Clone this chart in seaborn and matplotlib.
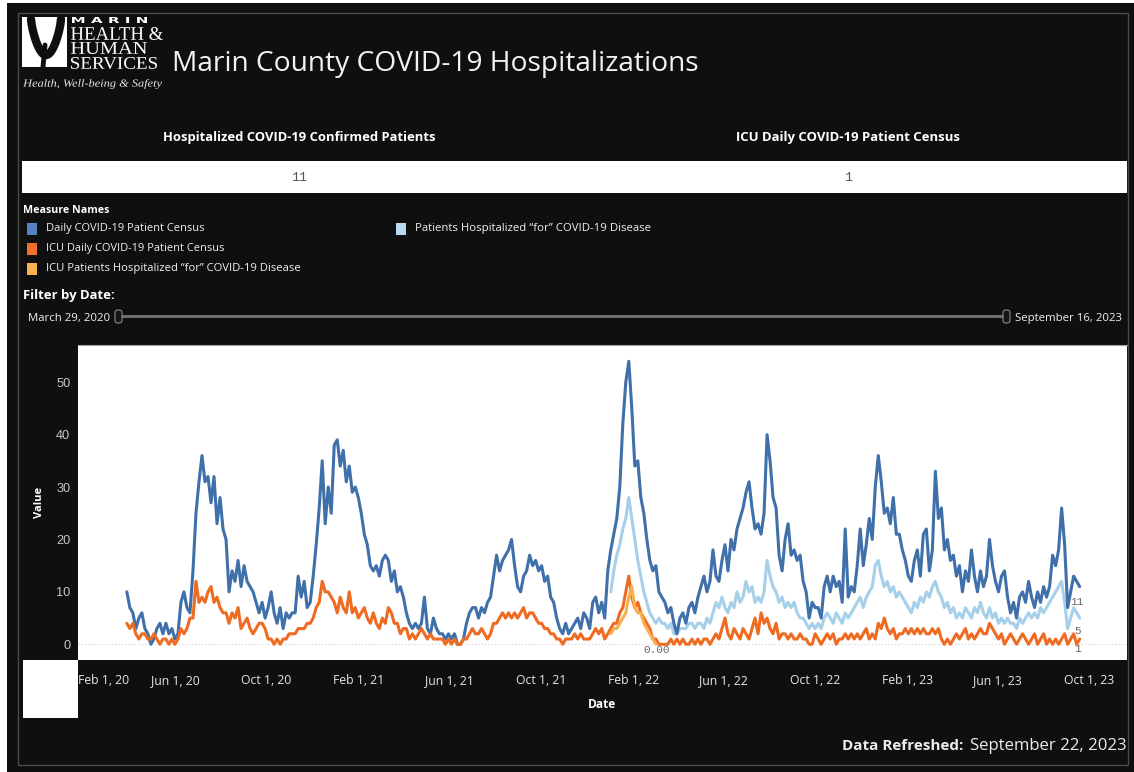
import numpy as np
import pandas as pd
import matplotlib
matplotlib.use("Agg")
import matplotlib.pyplot as plt
import matplotlib.dates as mdates
from matplotlib.patches import Rectangle, FancyBboxPatch, PathPatch
from matplotlib.ticker import FuncFormatter
from matplotlib.textpath import TextPath
from matplotlib.font_manager import FontProperties
from matplotlib.transforms import Affine2D, ScaledTranslation
import seaborn as sns

# ---------------- data (one value every 4 days) ----------------
SERIES_START = "2020-03-29"
FOR_START = "2022-01-02"
STEP = "4D"

daily_census = [
    10, 7, 6, 3, 5, 6, 3, 2, 0, 1,
    3, 4, 2, 4, 2, 3, 1, 2, 8, 10,
    7, 6, 14, 25, 31, 36, 31, 32, 27, 32,
    23, 28, 22, 20, 10, 14, 12, 16, 11, 15,
    12, 11, 10, 8, 6, 8, 5, 7, 10, 6,
    4, 7, 3, 6, 5, 6, 6, 13, 9, 12,
    7, 8, 13, 19, 26, 35, 23, 30, 25, 38,
    39, 34, 37, 31, 34, 29, 30, 28, 25, 21,
    19, 15, 14, 15, 13, 16, 17, 16, 12, 14,
    10, 11, 9, 6, 4, 3, 4, 3,
    4, 9, 3, 2, 5, 3, 2, 2, 1, 2,
    1, 2, 0, 0, 1, 4, 6, 7, 7, 5,
    7, 6, 8, 9, 13, 17, 14, 16, 17, 18,
    20, 15, 11, 10, 13, 14, 17, 15, 16, 14,
    15, 12, 13, 9, 8, 5, 3, 2, 4, 2,
    3, 4, 5, 3, 6, 5, 3, 8, 9, 6,
    8, 5, 14, 18, 21, 24, 30, 42, 50, 54,
    45, 34, 35, 28, 25, 20, 16, 14, 15, 10,
    9, 8, 6, 7, 4, 2, 5, 6, 4, 7,
    8, 6, 9, 11, 13, 10, 12, 18, 13, 12,
    16, 19, 14, 20, 18, 22, 24, 26, 29, 31,
    26, 22, 23,
    21, 25, 40, 35, 28, 26, 17, 14, 20, 23,
    17, 18, 16, 17, 12, 10, 5, 8, 7, 7,
    5, 11, 13, 10, 13, 11, 12, 8, 22, 9,
    11, 10, 15, 22, 15, 19, 24, 20, 30, 36,
    31, 25, 26, 23, 28, 21, 21, 18, 16, 13,
    12, 16, 18, 13, 21, 22, 14, 18, 33, 24,
    26, 18, 20, 16, 17, 13, 15, 10, 14, 12,
    18, 13, 10, 14, 11, 13, 20, 15, 12, 10,
    13, 14, 9, 6, 8, 5, 9, 10, 8, 12,
    9, 7, 10, 8, 11, 9, 11, 17, 15, 18,
    26, 19, 7, 10, 13, 12, 11,
]

icu_census = [
    4, 3, 4, 2, 1, 2, 2, 1, 1, 2,
    1, 0, 1, 1, 0, 1, 0, 1, 3, 2,
    3, 5, 5, 12, 8, 9, 8, 10, 11, 8,
    9, 7, 6, 6, 4, 6, 5, 7, 3, 4,
    5, 3, 2, 3, 4, 4, 3, 1, 1, 0,
    1, 0, 1, 1, 2, 2, 2, 3, 3, 3,
    4, 4, 5, 7, 8, 12, 10, 10, 9, 8,
    6, 9, 7, 6, 10, 6, 7, 5, 6, 7,
    5, 4, 6, 4, 3, 5, 4, 7, 6, 4,
    4, 2, 3, 3, 1, 2, 1, 2,
    3, 2, 1, 2, 1, 1, 1, 1, 0, 1,
    0, 1, 0, 0, 1, 1, 2, 3, 2, 2,
    3, 2, 1, 2, 4, 4, 5, 6, 5, 6,
    5, 6, 5, 6, 7, 5, 6, 6, 5, 4,
    4, 3, 3, 2, 2, 1, 1, 0, 1, 1,
    1, 2, 1, 2, 1, 1, 1, 2, 3, 2,
    3, 1, 2, 3, 4, 4, 6, 7, 10, 13,
    9, 7, 8, 6, 5, 4, 3, 1, 1, 0,
    0, 0, 0, 1, 0, 1, 0, 1, 0, 0,
    1, 0, 1, 0, 1, 1, 0, 1, 2, 1,
    3, 5, 2, 1, 3, 2, 1, 3, 2, 1,
    3, 5, 2,
    6, 4, 5, 3, 2, 4, 1, 2, 2, 1,
    2, 1, 1, 2, 1, 1, 0, 0, 2, 1,
    0, 1, 2, 1, 2, 0, 1, 1, 2, 1,
    2, 1, 2, 1, 2, 3, 1, 2, 1, 4,
    3, 5, 3, 2, 3, 1, 2, 2, 3, 2,
    3, 2, 3, 2, 3, 2, 2, 3, 2, 3,
    1, 0, 1, 0, 1, 2, 1, 2, 3, 1,
    2, 1, 2, 3, 2, 2, 4, 3, 2, 1,
    2, 0, 1, 2, 1, 0, 1, 2, 1, 0,
    1, 2, 0, 1, 2, 0, 1, 0, 1, 0,
    1, 2, 0, 1, 2, 0, 1,
]

for_covid = [
    10, 14, 17, 19, 22, 24, 28, 24, 20, 16,
    13, 10, 8, 6, 5, 4, 5, 4, 4, 3,
    4, 2, 2, 3, 3, 3, 4, 4, 3, 4,
    4, 3, 5, 4, 6, 8, 7, 9, 7, 6,
    8, 7, 10, 8, 9, 12, 10, 11, 8, 9,
    8, 10, 16, 13, 11, 10, 8, 9, 7, 8,
    7, 8, 6, 5, 5, 4, 3, 4, 3, 4,
    3, 5, 6, 5, 4, 6, 5, 4, 6, 5,
    6, 7, 8, 9, 7, 9, 10, 11, 15, 16,
    13, 11, 12, 10, 11, 9, 10, 9, 8, 7,
    6, 8, 7, 9, 8, 10, 9, 11, 12, 10,
    9, 7, 8, 6, 7, 5, 6, 5, 7, 6,
    5, 7, 6, 8, 6, 5, 7, 5, 6, 4,
    5, 4, 5, 4, 4, 3, 5, 4, 5, 6,
    5, 6, 5, 7, 6, 7, 8, 9, 10, 11,
    12, 8, 3, 5, 7, 6, 5,
]

icu_for_covid = [2, 3, 3, 4, 5, 6, 9, 11, 7, 6, 6, 4, 3, 2, 1, 0]

measure_names = [
    "Daily COVID-19 Patient Census",
    "ICU Daily COVID-19 Patient Census",
    "ICU Patients Hospitalized \u201cfor\u201d COVID-19 Disease",
    "Patients Hospitalized \u201cfor\u201d COVID-19 Disease",
]
measure_colors = ["#3f70aa", "#f06b22", "#f8b04e", "#a6cfea"]
legend_colors = ["#5582c0", "#f26f2a", "#f8b250", "#b7dcf0"]

end_labels = ["11", "1", "0.00", "5"]

# ---------------- build long table ----------------
def frame(values, start, name):
    d = pd.date_range(start, periods=len(values), freq=STEP)
    return pd.DataFrame({"Date": d, "Value": values, "Measure": name})

df = pd.concat([
    frame(daily_census, SERIES_START, measure_names[0]),
    frame(icu_census, SERIES_START, measure_names[1]),
    frame(icu_for_covid, FOR_START, measure_names[2]),
    frame(for_covid, FOR_START, measure_names[3]),
], ignore_index=True)

palette = dict(zip(measure_names, measure_colors))

# ---------------- figure ----------------
W, H = 1134, 772
sns.set_style("white")
plt.rcParams["font.family"] = ["Open Sans", "DejaVu Sans"]
fig = plt.figure(figsize=(W / 100, H / 100), dpi=100)
fig.patch.set_facecolor("white")
PXT = Affine2D().scale(1 / W, 1 / H) + fig.transFigure   # pixel (origin bottom-left) -> figure

def px(x, y):
    return x / W, 1 - y / H

# dark dashboard background + inner frame
fig.patches.append(Rectangle(px(7, 772), (W - 7) / W, (772 - 3) / H,
                             transform=fig.transFigure, facecolor="#0f0f0f",
                             edgecolor="none", zorder=-10))
fig.patches.append(Rectangle(px(18, 765), (1128 - 18) / W, (765 - 13) / H,
                             transform=fig.transFigure, facecolor="none",
                             edgecolor="#4a4a4a", lw=1.0, zorder=-9))

renderer = fig.canvas.get_renderer()

def ftext(x, y, s, width=None, size=10, ha="left", va="center", **kw):
    t = fig.text(*px(x, y), s, fontsize=size, ha=ha, va=va, **kw)
    if width:
        bb = t.get_window_extent(renderer)
        t.set_fontsize(size * width / bb.width)
    return t

def path_text(s, x0, x1, ytop, ybot, family, weight="normal", style="normal", color="white"):
    tp = TextPath((0, 0), s, size=100,
                  prop=FontProperties(family=family, weight=weight, style=style))
    bb = tp.get_extents()
    tr = (Affine2D().translate(-bb.x0, -bb.y0)
          .scale((x1 - x0) / bb.width, (ybot - ytop) / bb.height)
          .translate(x0, H - ybot))
    fig.patches.append(PathPatch(tr.transform_path(tp), transform=PXT,
                                 facecolor=color, edgecolor="none", zorder=3))

# logo
fig.patches.append(Rectangle(px(22, 67), 45 / W, 50 / H, transform=fig.transFigure,
                             facecolor="white", edgecolor="none", zorder=2))
lx = np.linspace(31, 61, 50)
ly = 19 + 36 * np.sin(np.linspace(0, np.pi, 50)) ** 0.7
fig.lines.append(plt.Line2D(lx / W, 1 - ly / H, transform=fig.transFigure,
                            color="#0f0f0f", lw=6, solid_capstyle="round", zorder=3))
fig.lines.append(plt.Line2D([45 / W, 43 / W], [1 - 45 / H, 1 - 67 / H], transform=fig.transFigure,
                            color="#0f0f0f", lw=3.5, zorder=3))
path_text("M A R I N", 72, 147, 17, 23, ["DejaVu Sans"], weight="bold")
path_text("HEALTH &", 71, 163, 27, 40, ["Liberation Serif"])
path_text("HUMAN", 71, 147, 42, 54, ["Liberation Serif"])
path_text("SERVICES", 71, 157, 57, 69, ["Liberation Serif"])
path_text("Health, Well-being & Safety", 23, 162, 79, 89, ["Liberation Serif"],
          style="italic", color="#e6e6e6")

# title
ftext(172, 64, "Marin County COVID-19 Hospitalizations", width=526, size=20, color="#f2f2f2")

# KPI headers & band
ftext(299, 137, "Hospitalized COVID-19 Confirmed Patients", width=274, size=10,
      ha="center", weight="bold", color="white")
ftext(848, 137, "ICU Daily COVID-19 Patient Census", width=224, size=10,
      ha="center", weight="bold", color="white")
fig.patches.append(Rectangle(px(22, 193), (1127 - 22) / W, 32 / H, transform=fig.transFigure,
                             facecolor="white", edgecolor="none", zorder=2))
ftext(299, 178, "11", size=9.5, ha="center", color="#555555", family=["Liberation Mono"])
ftext(848, 178, "1", size=9.5, ha="center", color="#555555", family=["Liberation Mono"])

# legend
ftext(23, 210, "Measure Names", width=86, size=8, weight="bold", color="white")
leg_pos = [(27, 229), (27, 249), (27, 269), (396, 229)]
leg_widths = [158, 177, 255, 237]
for (lx0, ly0), name, col, wd in zip(leg_pos, measure_names, legend_colors, leg_widths):
    fig.patches.append(Rectangle(px(lx0, ly0 + 6), 10 / W, 12 / H, transform=fig.transFigure,
                                 facecolor=col, edgecolor="none", zorder=2))
    ftext(lx0 + 19, ly0, name, width=wd, size=8, color="#f0f0f0")

# date filter
ftext(23, 296, "Filter by Date:", width=92, size=8, weight="bold", color="white")
ftext(28, 318, "March 29, 2020", width=82, size=8, color="#f0f0f0")
ftext(1015, 318, "September 16, 2023", width=107, size=8, color="#f0f0f0")
fig.patches.append(Rectangle(px(118, 318), (1006 - 118) / W, 3 / H, transform=fig.transFigure,
                             facecolor="#6e6e6e", edgecolor="none", zorder=2))
for hx in (115, 1003):
    fig.patches.append(FancyBboxPatch(px(hx, 323), 7 / W, 13 / H, transform=fig.transFigure,
                                      boxstyle="round,pad=0,rounding_size=0.003",
                                      facecolor="#151515", edgecolor="#8a8a8a", lw=0.8, zorder=3))

# ---------------- chart ----------------
ax = fig.add_axes([78 / W, (H - 660) / H, (1127 - 78) / W, (660 - 345) / H])
ax.set_facecolor("white")
ax.axhline(0, color="#cfcfcf", lw=0.8, ls=(0, (1, 2)), zorder=0.5)

draw_order = [measure_names[3], measure_names[0], measure_names[1], measure_names[2]]
sns.lineplot(data=df, x="Date", y="Value", hue="Measure", hue_order=draw_order,
             palette=palette, legend=False, lw=2.2, ax=ax, estimator=None, sort=True)

ax.set_xlim(pd.Timestamp("2020-01-24"), pd.Timestamp("2023-11-20"))
ax.set_ylim(-3, 57.1)
ax.set_yticks([0, 10, 20, 30, 40, 50])

ax.xaxis.set_major_locator(mdates.MonthLocator(bymonth=[2, 6, 10], bymonthday=1))
ax.xaxis.set_minor_locator(mdates.MonthLocator(bymonthday=1))
ax.xaxis.set_major_formatter(FuncFormatter(
    lambda v, p: "{:%b} {}, {:%y}".format(mdates.num2date(v), mdates.num2date(v).day, mdates.num2date(v))))

ax.tick_params(axis="x", which="major", colors="#cfcfcf", length=5, width=0.8, pad=5,
               labelsize=8.8, labelcolor="#e6e6e6")
ax.tick_params(axis="x", which="minor", colors="#8a8a8a", length=3, width=0.6)
ax.tick_params(axis="y", colors="#9a9a9a", length=4, width=0.8, pad=1.5,
               labelsize=9.2, labelcolor="#c8c8c8")
for lab in ax.get_yticklabels():
    lab.set_family(["Liberation Sans"])

for s in ("left", "right", "bottom"):
    ax.spines[s].set_visible(False)
ax.spines["top"].set_color("#a0a0a0")
ax.spines["top"].set_linewidth(0.8)

ax.set_xlabel("")
ax.set_ylabel("")
ftext(40, 502, "Value", size=8, weight="bold", color="white", rotation=90, ha="center")
ftext(602, 705, "Date", width=28, size=8.5, weight="bold", color="white", ha="center")

# end-of-line labels (placed just below each line's last point)
series_values = [daily_census, icu_census, icu_for_covid, for_covid]
series_starts = [SERIES_START, SERIES_START, FOR_START, FOR_START]
label_offsets_px = [(-3, -15), (-2, -10), (1, -6), (-2, -13)]
for vals, st, lab, off in zip(series_values, series_starts, end_labels, label_offsets_px):
    last = pd.date_range(st, periods=len(vals), freq=STEP)[-1]
    ax.annotate(lab, (last, vals[-1]), xytext=(off[0] * 0.72, off[1] * 0.72),
                textcoords="offset points", fontsize=8, color="#666666",
                ha="center", va="center", family=["Liberation Mono"])

# white box bottom-left
fig.patches.append(Rectangle(px(23, 718), (78 - 23) / W, (718 - 660) / H, transform=fig.transFigure,
                             facecolor="white", edgecolor="none", zorder=2))

# data refreshed
ftext(842, 746, "Data Refreshed:", width=122, size=12, weight="bold", color="#ececec")
ftext(970, 746, "September 22, 2023", width=156, size=12, color="#ececec")

# first date label is pushed right so it starts at the plot edge
fig.canvas.draw()
first = ax.xaxis.get_major_ticks()[0].label1
first.set_horizontalalignment("left")
first.set_transform(first.get_transform() + ScaledTranslation(-0.06, 0, fig.dpi_scale_trans))

fig.savefig("out.png", dpi=100, facecolor=fig.get_facecolor())
